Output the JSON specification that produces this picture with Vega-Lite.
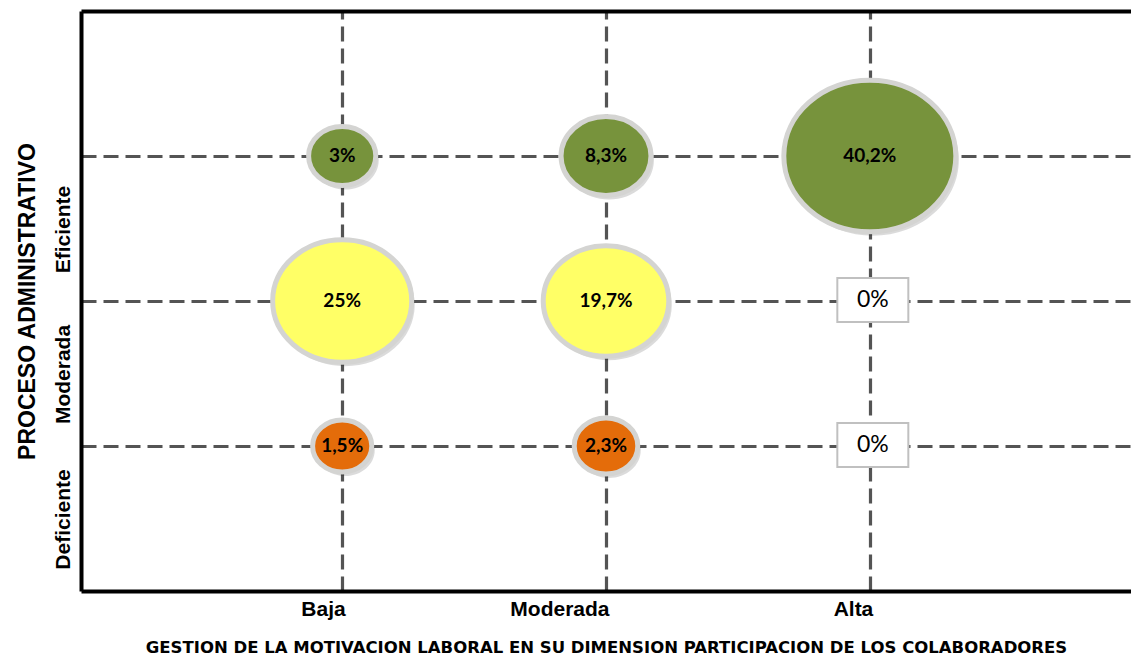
{
  "$schema": "https://vega.github.io/schema/vega-lite/v6.json",
  "width": 1050,
  "height": 580,
  "autosize": {"type": "none"},
  "padding": {"left": 81, "top": 11, "right": 0, "bottom": 66},
  "config": {"view": {"stroke": null}, "font": "Liberation Sans"},
  "data": {
    "values": [
      {"motivacion": "Baja", "proceso": "Eficiente", "pct": 3, "label": "3%"},
      {"motivacion": "Moderada", "proceso": "Eficiente", "pct": 8.3, "label": "8,3%"},
      {"motivacion": "Alta", "proceso": "Eficiente", "pct": 40.2, "label": "40,2%"},
      {"motivacion": "Baja", "proceso": "Moderada", "pct": 25, "label": "25%"},
      {"motivacion": "Moderada", "proceso": "Moderada", "pct": 19.7, "label": "19,7%"},
      {"motivacion": "Alta", "proceso": "Moderada", "pct": 0, "label": "0%"},
      {"motivacion": "Baja", "proceso": "Deficiente", "pct": 1.5, "label": "1,5%"},
      {"motivacion": "Moderada", "proceso": "Deficiente", "pct": 2.3, "label": "2,3%"},
      {"motivacion": "Alta", "proceso": "Deficiente", "pct": 0, "label": "0%"}
    ]
  },
  "resolve": {"axis": {"x": "independent"}},
  "layer": [
    {
      "transform": [{"filter": "datum.pct > 0"}],
      "mark": {"type": "point", "shape": "M-1,0A1,0.88,0,1,1,1,0A1,0.88,0,1,1,-1,0Z", "filled": true, "color": "#000", "opacity": 0.14, "xOffset": 3, "yOffset": 4},
      "encoding": {
        "x": {"field": "motivacion", "type": "nominal", "sort": null,
          "scale": {"type": "point", "domain": ["Baja", "Moderada", "Alta"], "padding": 0.99},
          "axis": {"orient": "bottom", "title": "GESTION DE LA MOTIVACION LABORAL EN SU DIMENSION PARTICIPACION DE LOS COLABORADORES",
            "titleFont": "DejaVu Sans", "titleFontSize": 16.5, "titleFontWeight": "bold", "titleColor": "#000", "titlePadding": 20,
            "labelAngle": 0, "labelAlign": "right", "labelOffset": 3, "labelFontSize": 21, "labelFontWeight": "bold", "labelColor": "#000", "labelPadding": 7,
            "ticks": false, "domainColor": "#000", "domainWidth": 4,
            "grid": true, "gridColor": "#545454", "gridWidth": 3.2, "gridDash": [15, 7], "gridOpacity": 1}},
        "y": {"field": "proceso", "type": "nominal", "sort": null,
          "scale": {"type": "point", "domain": ["Eficiente", "Moderada", "Deficiente"], "padding": 1},
          "axis": {"title": "PROCESO ADMINISTRATIVO", "titleFontSize": 23, "titleFontWeight": "bold", "titleColor": "#000", "titlePadding": 13,
            "labelAngle": -90, "labelAlign": "center", "labelBaseline": "bottom", "labelOffset": 73, "labelFontSize": 21, "labelFontWeight": "bold", "labelColor": "#000", "labelPadding": 8,
            "ticks": false, "domainColor": "#000", "domainWidth": 4,
            "grid": true, "gridColor": "#545454", "gridWidth": 3.2, "gridDash": [15, 7], "gridOpacity": 1}},
        "size": {"field": "pct", "type": "quantitative", "scale": {"domain": [1.5, 40.2], "range": [3500, 29584], "zero": false}, "legend": null}
      }
    },
    {
      "transform": [{"filter": "datum.pct > 0"}],
      "mark": {"type": "point", "shape": "M-1,0A1,0.88,0,1,1,1,0A1,0.88,0,1,1,-1,0Z", "filled": true, "opacity": 1, "stroke": "#d4d4d2", "strokeWidth": 5},
      "encoding": {
        "x": {"field": "motivacion", "type": "nominal", "sort": null, "axis": null},
        "y": {"field": "proceso", "type": "nominal", "sort": null},
        "size": {"field": "pct", "type": "quantitative", "legend": null},
        "fill": {"field": "proceso", "type": "nominal", "scale": {"domain": ["Eficiente", "Moderada", "Deficiente"], "range": ["#77933C", "#FFFF66", "#E46C0A"]}, "legend": null}
      }
    },
    {
      "transform": [{"filter": "datum.pct > 0"}],
      "mark": {"type": "text", "font": "Lato", "fontSize": 19, "fontWeight": "bold", "color": "#000"},
      "encoding": {
        "x": {"field": "motivacion", "type": "nominal", "sort": null, "axis": null},
        "y": {"field": "proceso", "type": "nominal", "sort": null},
        "text": {"field": "label"}
      }
    },
    {
      "transform": [{"filter": "datum.pct == 0"}],
      "mark": {"type": "point", "shape": "M-1,-0.62H1V0.62H-1Z", "filled": true, "fill": "#fff", "opacity": 1, "stroke": "#c0c0c0", "strokeWidth": 2, "size": 5041, "xOffset": 3, "yOffset": -1},
      "encoding": {
        "x": {"field": "motivacion", "type": "nominal", "sort": null, "axis": null},
        "y": {"field": "proceso", "type": "nominal", "sort": null}
      }
    },
    {
      "transform": [{"filter": "datum.pct == 0"}],
      "mark": {"type": "text", "font": "Lato", "fontSize": 23, "color": "#000", "xOffset": 3, "yOffset": -1},
      "encoding": {
        "x": {"field": "motivacion", "type": "nominal", "sort": null,
          "axis": {"orient": "top", "labels": false, "ticks": false, "title": null, "grid": false, "domainColor": "#000", "domainWidth": 4}},
        "y": {"field": "proceso", "type": "nominal", "sort": null},
        "text": {"field": "label"}
      }
    }
  ]
}
